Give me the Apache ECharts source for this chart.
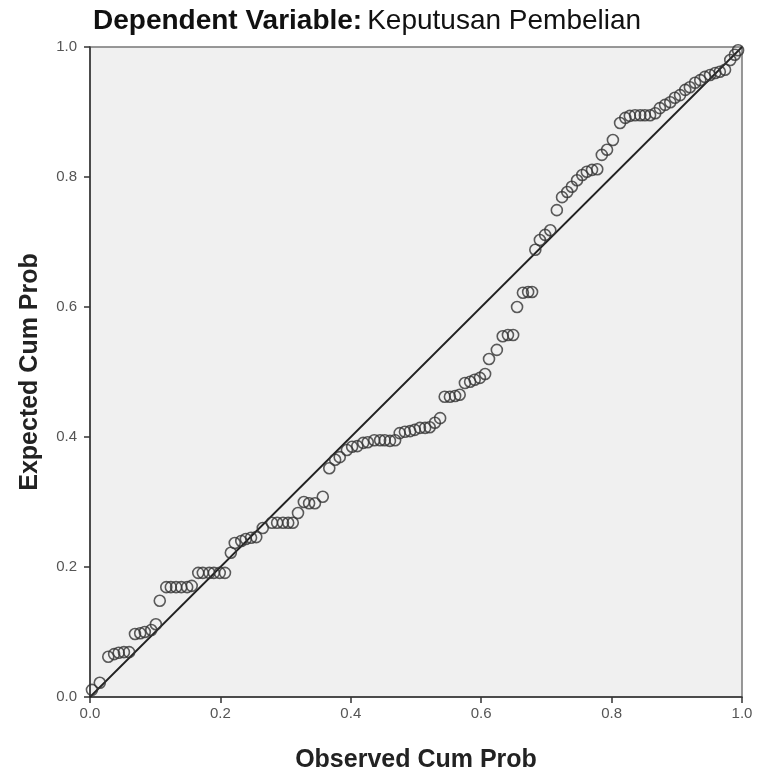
<!DOCTYPE html>
<html>
<head>
<meta charset="utf-8">
<script src="https://cdn.jsdelivr.net/npm/echarts@6/dist/echarts.min.js"></script>
<style>
html,body{margin:0;padding:0;background:#fff;}
#chart{width:760px;height:778px;}
</style>
</head>
<body>
<div id="chart"></div>
<script>
// Observed cumulative probability (x) for each residual point
var observed = [0.003,0.015,0.028,0.037,0.044,0.052,0.060,0.069,0.077,0.084,0.094,0.101,0.107,0.117,0.124,0.132,0.140,0.149,0.156,0.166,0.173,0.183,0.190,0.199,0.207,0.216,0.222,0.232,0.239,0.247,0.255,0.265,0.279,0.287,0.296,0.304,0.311,0.319,0.328,0.336,0.345,0.357,0.367,0.376,0.383,0.394,0.402,0.410,0.419,0.426,0.436,0.445,0.452,0.460,0.468,0.475,0.483,0.491,0.498,0.506,0.514,0.521,0.529,0.537,0.544,0.552,0.560,0.567,0.575,0.583,0.590,0.598,0.606,0.612,0.624,0.633,0.641,0.649,0.655,0.664,0.672,0.678,0.683,0.690,0.698,0.706,0.716,0.724,0.732,0.739,0.747,0.755,0.762,0.770,0.778,0.785,0.793,0.802,0.813,0.821,0.828,0.836,0.844,0.851,0.859,0.867,0.874,0.882,0.890,0.897,0.905,0.913,0.920,0.928,0.936,0.943,0.951,0.959,0.966,0.974,0.982,0.989,0.994];
// Expected cumulative probability (y) for each residual point
var expected = [0.011,0.022,0.062,0.066,0.068,0.069,0.069,0.097,0.098,0.100,0.103,0.112,0.148,0.169,0.169,0.169,0.169,0.169,0.171,0.191,0.191,0.191,0.191,0.191,0.191,0.222,0.237,0.240,0.243,0.245,0.246,0.260,0.268,0.268,0.268,0.268,0.268,0.283,0.300,0.298,0.298,0.308,0.352,0.365,0.369,0.380,0.385,0.386,0.391,0.392,0.395,0.395,0.395,0.394,0.395,0.406,0.408,0.409,0.411,0.414,0.414,0.415,0.422,0.429,0.462,0.462,0.463,0.465,0.483,0.485,0.488,0.491,0.497,0.520,0.534,0.555,0.557,0.557,0.600,0.622,0.623,0.623,0.688,0.703,0.711,0.718,0.749,0.769,0.777,0.785,0.795,0.803,0.808,0.811,0.812,0.834,0.842,0.857,0.883,0.891,0.894,0.895,0.895,0.895,0.895,0.898,0.906,0.911,0.915,0.922,0.926,0.934,0.938,0.945,0.949,0.954,0.957,0.960,0.962,0.965,0.980,0.988,0.995];
// Reference diagonal
var refLine = [[0,0],[1,1]];
var tickValues = [0,0.2,0.4,0.6,0.8,1.0];

var points = observed.map(function(x,i){return [x, expected[i]];});

var chart = echarts.init(document.getElementById('chart'));
var font = '"Liberation Sans", Arial, sans-serif';
var axisCommon = {
  type:'value', min:0, max:1, interval:0.2,
  axisLine:{show:true,onZero:false,lineStyle:{color:'#333',width:1.5}},
  axisTick:{show:true,length:6,lineStyle:{color:'#333',width:1.5}},
  splitLine:{show:false},
  axisLabel:{color:'#555',fontSize:15,fontFamily:font,formatter:function(v){return v.toFixed(1);}},
  nameLocation:'middle',
  nameTextStyle:{color:'#222',fontSize:25,fontWeight:'bold',fontFamily:font}
};
chart.setOption({
  animation:false,
  backgroundColor:'#fff',
  title:{
    left:88, top:2,
    text:'{b|Dependent Variable:} {n|Keputusan Pembelian}',
    textStyle:{
      rich:{
        b:{fontSize:28,fontWeight:'bold',color:'#111',fontFamily:font},
        n:{fontSize:28,fontWeight:'normal',color:'#111',fontFamily:font}
      }
    }
  },
  grid:{left:90,top:47,right:18,bottom:81,containLabel:false,outerBoundsMode:'none',show:true,backgroundColor:'#f0f0f0',borderColor:'#777',borderWidth:1.5},
  xAxis:Object.assign({},axisCommon,{name:'Observed Cum Prob',nameGap:51,axisLabel:Object.assign({},axisCommon.axisLabel,{margin:9})}),
  yAxis:Object.assign({},axisCommon,{name:'Expected Cum Prob',nameGap:47,axisLabel:Object.assign({},axisCommon.axisLabel,{margin:13})}),
  series:[
    {type:'line',data:refLine,showSymbol:false,symbol:'none',lineStyle:{color:'#222',width:1.8},z:2,silent:true},
    {type:'scatter',data:points,symbol:'circle',symbolSize:11,
      itemStyle:{color:'rgba(0,0,0,0)',borderColor:'#333',borderWidth:1.6},z:3}
  ]
});
</script>
</body>
</html>
